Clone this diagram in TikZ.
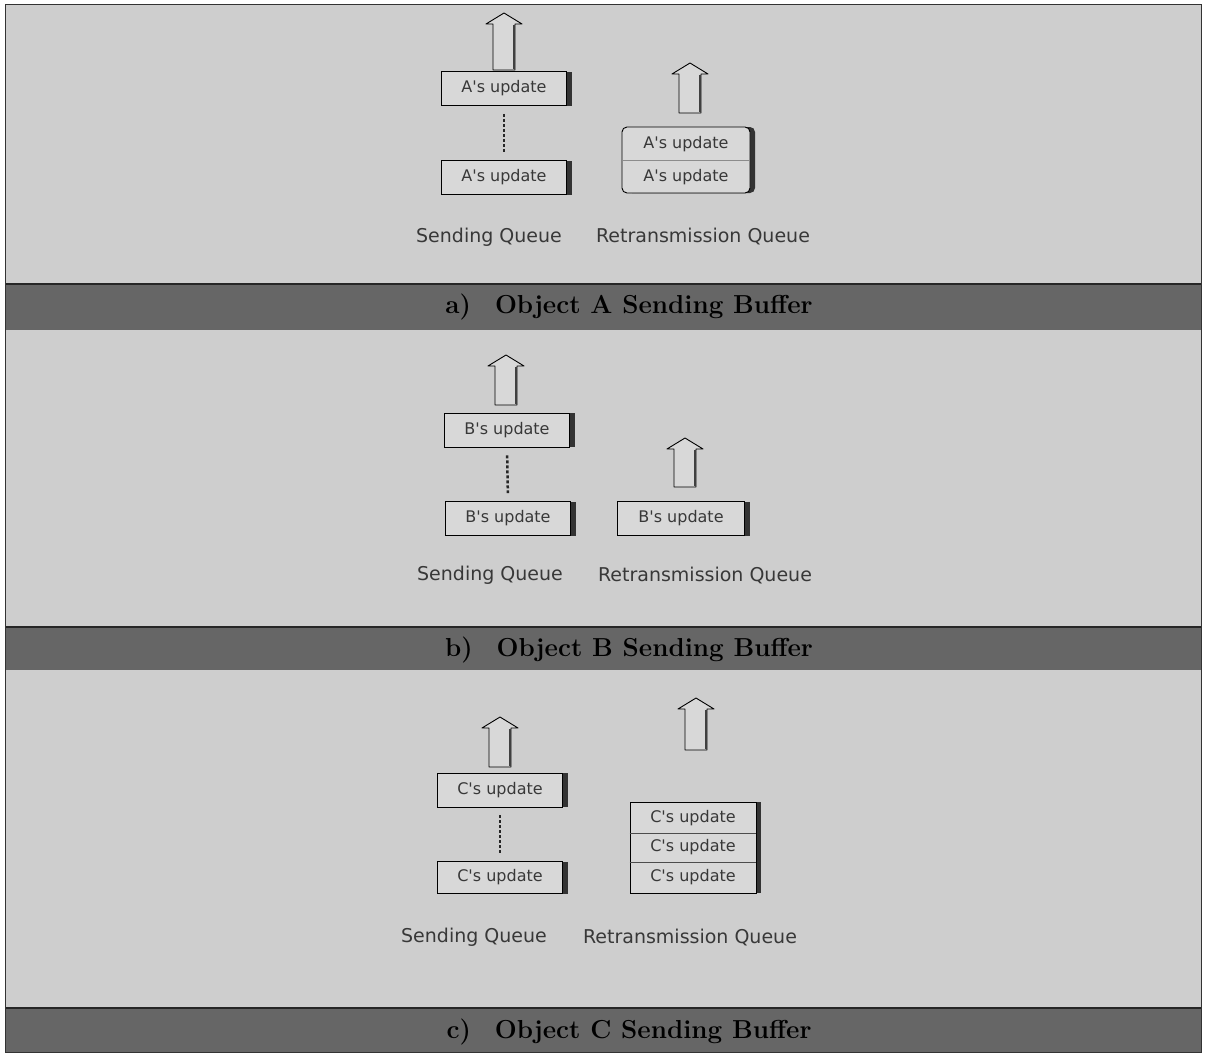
\documentclass[tikz,border=0pt]{standalone}
\usepackage{fontspec}
\newfontfamily\dv{DejaVu Sans}
\usetikzlibrary{shadows}
\definecolor{panelbg}{HTML}{CECECE}
\definecolor{bandbg}{HTML}{666666}
\definecolor{boxfill}{HTML}{D8D8D8}
\definecolor{inktext}{HTML}{383838}
\begin{document}
\begin{tikzpicture}[x=1pt,y=-1pt,
  upd/.style={draw=black, line width=0.9pt, fill=boxfill, minimum width=125pt, minimum height=34pt,
    inner sep=0pt, text=inktext, font=\dv\fontsize{16}{16}\selectfont,
    drop shadow={shadow xshift=5pt, shadow yshift=0pt, fill=black!80, opacity=1}},
  updtext/.style={inner sep=0pt, text=inktext, font=\dv\fontsize{16}{16}\selectfont},
  qlabel/.style={inner sep=0pt, text=inktext, font=\dv\fontsize{19}{19}\selectfont},
  captext/.style={inner sep=0pt, text=black, font=\fontsize{26}{26}\selectfont\bfseries},
  dots/.style={draw=black!85, line width=2.5pt, dash pattern=on 3pt off 2pt, shorten >=8pt, shorten <=8pt},
  rowline/.style={draw=black!70, line width=0.8pt},
  pics/uparr/.style={code={
    \draw[line width=0.9pt, fill=boxfill, line join=round]
      (-11,0) -- (-11,-#1+11) -- (-18,-#1+11) -- (0,-#1) -- (18,-#1+11) -- (11,-#1+11) -- (11,0) -- cycle;
    \draw[line width=2.4pt, black!75] (10,-#1+12) -- (10,-1);
  }}
]
\useasboundingbox (0,0) rectangle (1206,1057);
\fill[white] (0,0) rectangle (1206,1057);
% panels and bands
\fill[panelbg] (5,5) rectangle (1201,284);
\fill[bandbg] (5,284) rectangle (1201,330);
\fill[panelbg] (5,330) rectangle (1201,627);
\fill[bandbg] (5,627) rectangle (1201,670);
\fill[panelbg] (5,670) rectangle (1201,1008);
\fill[bandbg] (5,1008) rectangle (1201,1052);
\draw[black!85, line width=1.5pt] (5,284) -- (1201,284);
\draw[black!85, line width=1.5pt] (5,627) -- (1201,627);
\draw[black!85, line width=1.5pt] (5,1008) -- (1201,1008);
\draw[black!80, line width=1pt] (5,5) rectangle (1201,1052);

% ---------- panel a ----------
\node[upd] (a1) at (504,88.5) {A's update};
\node[upd] (a2) at (504,177.5) {A's update};
\draw[dots] (a1.south) -- (a2.north);
\pic at (504,70) {uparr=57};
\node[upd, minimum width=128pt, minimum height=66pt, rounded corners=5pt] (aR) at (686,160) {};
\node[updtext] (aR1) at (686,144) {A's update};
\node[updtext] (aR2) at (686,177) {A's update};
\draw[rowline, draw=black!45] (aR.west |- 0,160) -- (aR.east |- 0,160);
\pic at (690,113) {uparr=50};
\node[qlabel] (aSQ) at (489,237) {Sending Queue};
\node[qlabel] (aRQ) at (703,237) {Retransmission Queue};
\node[captext] (capA) at (629,307) {a)\hspace{24pt}Object A Sending Buffer};

% ---------- panel b ----------
\node[upd] (b1) at (507,430) {B's update};
\node[upd] (b2) at (508,518.5) {B's update};
\draw[dots] (b1.south) -- (b2.north);
\pic at (506,405) {uparr=50};
\node[upd, minimum width=127pt] (bR) at (681,518.5) {B's update};
\pic at (685,487) {uparr=49};
\node[qlabel] (bSQ) at (490,575) {Sending Queue};
\node[qlabel] (bRQ) at (705,575) {Retransmission Queue};
\node[captext] (capB) at (629,650) {b)\hspace{24pt}Object B Sending Buffer};

% ---------- panel c ----------
\node[upd] (c1) at (500,790) {C's update};
\node[upd, minimum height=32pt] (c2) at (500,877.5) {C's update};
\draw[dots] (c1.south) -- (c2.north);
\pic at (500,767) {uparr=50};
\node[upd, minimum width=126pt, minimum height=91pt] (cR) at (693,847.5) {};
\node[updtext] (cR1) at (693,818) {C's update};
\node[updtext] (cR2) at (693,847) {C's update};
\node[updtext] (cR3) at (693,877) {C's update};
\draw[rowline] (cR.west |- 0,833) -- (cR.east |- 0,833);
\draw[rowline] (cR.west |- 0,862) -- (cR.east |- 0,862);
\pic at (696,750) {uparr=52};
\node[qlabel] (cSQ) at (474,937) {Sending Queue};
\node[qlabel] (cRQ) at (690,937) {Retransmission Queue};
\node[captext] (capC) at (629,1032) {c)\hspace{24pt}Object C Sending Buffer};
\end{tikzpicture}
\end{document}
